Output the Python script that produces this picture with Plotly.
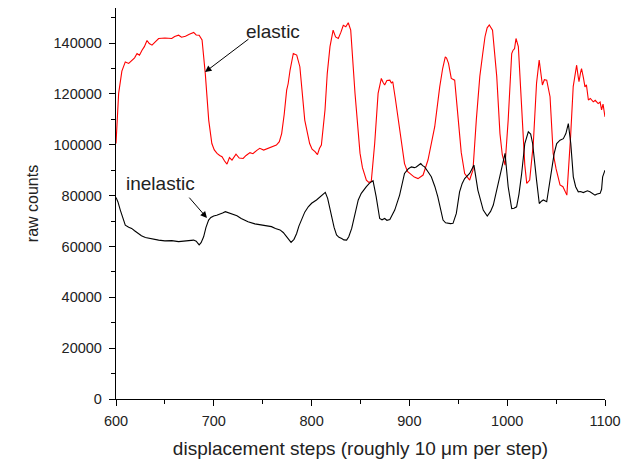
import plotly.graph_objects as go

# ---- data ----
elastic_x = [600, 602.7, 606, 609.5, 613, 616, 619, 621.5, 624, 626.6, 629, 631.7, 634, 636.8, 640, 643.6,
             650, 657, 660, 664, 667, 671, 675, 679.4, 682, 685, 688, 691.3, 694.8, 698, 700.5, 703.3,
             706, 708.4, 711, 713.5, 716, 718.6, 722.7, 726, 730, 733, 737, 740, 744, 747, 751, 755.7,
             760, 764, 767, 769.4, 772, 774.5, 776, 778, 781.3, 784.8, 788, 790.5, 793, 798, 800.5, 803.5,
             806, 808, 810, 813.7, 816, 818.8, 822, 824.5, 827.3, 830, 832.4, 835, 837.5, 840, 844.4, 849.5,
             852, 856, 858.5, 861, 864.5, 868, 871.3, 873, 874.7, 877, 880, 881.5, 883, 885.6, 890, 895,
             898, 902, 905, 908.8, 911, 914, 919, 925.9, 931, 934, 936.7, 938, 940, 942.8, 946.3, 949.7,
             953, 956.5, 959, 961.6, 963, 965, 968.4, 972, 975, 977.3, 979.5, 981.7, 985, 989.3, 992.6,
             995, 997.8, 1001, 1004.6, 1006, 1007.5, 1009, 1011.4, 1014.8, 1018, 1020, 1021.5, 1023,
             1026.7, 1030, 1032.7, 1034.5, 1036, 1038, 1040.4, 1043.8, 1047, 1050, 1054, 1057, 1059,
             1061, 1064.8, 1067.5, 1069, 1071, 1072.5, 1073.4, 1075, 1076, 1078, 1079.5, 1081, 1083,
             1085, 1088, 1090, 1093, 1095, 1096.5, 1098, 1100]
elastic_y = [100500, 120200, 129000, 132600, 132000, 133300, 134200, 135900, 135200, 137200, 138600, 141000,
             139800, 139200, 140500, 141800, 142000, 141800, 142600, 143100, 142300, 142700, 143500, 144200,
             143200, 143100, 141200, 128000, 109700, 100500, 98000, 96600, 95800, 95300, 93600, 92400, 95000,
             94000, 96300, 94800, 94600, 95800, 96900, 96500, 97800, 98600, 97900, 98600, 99200, 99900,
             101200, 104400, 112000, 121500, 124000, 129400, 135900, 135300, 130700, 120000, 109700, 100500,
             98300, 97300, 96100, 98500, 99900, 113700, 128000, 138600, 145100, 142400, 141800, 144300,
             147000, 146400, 148000, 145100, 120200, 96700, 91000, 86100, 85200, 85500, 100500, 120200,
             126100, 124600, 123500, 125300, 125400, 124300, 124800, 118200, 105800, 92600, 89500, 88100,
             87300, 86700, 87300, 88100, 94000, 107100, 122800, 130000, 134600, 134100, 132000, 126100,
             125400, 111000, 97000, 88700, 87300, 86100, 87800, 90000, 109700, 126900, 135900, 142500,
             146000, 147100, 145100, 126900, 104400, 96000, 92000, 109700, 135900, 137200, 137800, 141800,
             138600, 113700, 92000, 84800, 85600, 86100, 100500, 124200, 133300, 128500, 123500, 125600,
             125400, 118900, 96600, 90500, 84200, 83500, 81800, 80200, 103100, 122900, 126500, 131300,
             127000, 124800, 128400, 130000, 126200, 122800, 123600, 117600, 118200, 116900, 117500, 116200,
             116800, 113700, 116000, 111000]

inelastic_x = [600, 602, 604.4, 607, 609.5, 613, 616, 619, 623, 626, 630, 636, 643.6, 650, 657, 664, 671,
               675, 679.4, 682, 685, 687, 689.6, 692, 694.7, 697, 699.9, 703, 706.6, 709, 711.8, 715,
               718.6, 723.7, 728, 735, 742, 749, 754, 759, 763, 767.7, 771, 774.5, 777, 779, 782, 784.7,
               787, 790, 793, 796.6, 800, 805, 809, 812, 814, 816.4, 818, 820.5, 823, 825.5, 828, 830.8,
               833, 835.8, 838, 841, 844, 847.7, 850.8, 853, 856, 859, 862.8, 866, 869.6, 872, 874.7, 877,
               880, 885, 890, 895, 899, 902, 905, 907, 909, 911.6, 913.5, 915.6, 919, 922.4, 926, 929,
               932, 934.4, 937, 939.5, 942, 944.6, 948, 951.3, 954, 956.5, 959, 961.6, 964, 966, 970,
               975.5, 979.6, 983, 985.8, 991, 994, 997.8, 1001, 1004.6, 1007, 1009.6, 1012, 1014.8,
               1018, 1021.6, 1024, 1026, 1030, 1032.8, 1035, 1036.9, 1040.4, 1043, 1045.5, 1048,
               1050.6, 1054, 1057.4, 1060, 1062.5, 1065, 1067.6, 1070, 1072.7, 1075, 1077.8, 1080,
               1082, 1084.6, 1087, 1089.8, 1092, 1095, 1096.5, 1097.6, 1100]
inelastic_y = [79300, 77500, 74300, 71000, 68400, 67600, 67100, 66200, 65100, 64200, 63500, 63000, 62500,
               62200, 62300, 61900, 62300, 62500, 62500, 62100, 60600, 61500, 63800, 67500, 70400, 71400,
               72000, 72300, 72700, 73200, 73700, 73300, 73000, 72100, 71000, 69700, 68900, 68400, 68200,
               67800, 67100, 66500, 65500, 63800, 62400, 61600, 62800, 65100, 68000, 71000, 73500, 75600,
               77000, 78300, 79800, 80900, 81300, 78900, 75800, 71800, 67500, 64500, 63600, 63100, 62600,
               62500, 63800, 67100, 72500, 78300, 80900, 82200, 83500, 84800, 85900, 79600, 71000, 70500,
               71000, 70300, 70600, 74300, 80200, 88700, 90600, 91300, 91000, 91300, 91800, 92600, 91800,
               91300, 89400, 87400, 83600, 79600, 74500, 70400, 69300, 69100, 69000, 69100, 73000, 81500,
               84800, 86700, 87500, 88700, 90500, 92000, 82200, 74300, 72000, 73800, 76300, 84800, 90200,
               96600, 83500, 74900, 75000, 75600, 80500, 88700, 100500, 105100, 104200, 100500, 86100,
               76900, 77800, 78300, 77600, 83500, 90000, 96500, 100500, 101800, 102400, 104400, 108300,
               100500, 87400, 83500, 81500, 81600, 81200, 81700, 81900, 81500, 81000, 80200, 80600, 80900,
               82500, 87400, 90000]

x_ticks = [600, 700, 800, 900, 1000, 1100]
y_ticks = [0, 20000, 40000, 60000, 80000, 100000, 120000, 140000]

fig = go.Figure()
fig.add_trace(go.Scatter(x=elastic_x, y=elastic_y, mode="lines", name="elastic",
                         line=dict(color="#ff0000", width=1.1)))
fig.add_trace(go.Scatter(x=inelastic_x, y=inelastic_y, mode="lines", name="inelastic",
                         line=dict(color="#000000", width=1.1)))

fig.add_annotation(x=691, y=128600, ax=737, ay=142000, xref="x", yref="y", axref="x", ayref="y",
                   text="", showarrow=True, arrowhead=2, arrowsize=1.3, arrowwidth=1, arrowcolor="black")
fig.add_annotation(x=760.5, y=144700, xref="x", yref="y", text="elastic", showarrow=False,
                   font=dict(size=19, color="#222"))
fig.add_annotation(x=693, y=71200, ax=673.6, ay=79800, xref="x", yref="y", axref="x", ayref="y",
                   text="", showarrow=True, arrowhead=2, arrowsize=1.3, arrowwidth=1, arrowcolor="black")
fig.add_annotation(x=645, y=84900, xref="x", yref="y", text="inelastic", showarrow=False,
                   font=dict(size=19, color="#222"))

axis_common = dict(showgrid=False, zeroline=False, showline=True, linecolor="black", linewidth=1.3,
                   ticks="outside", ticklen=6, tickwidth=1.2, tickcolor="black",
                   tickfont=dict(size=14.5, color="#222"))

# page body has an 8px default margin, so the figure is sized/offset to land the plot area
# where the reference has it
fig.update_layout(
    width=622, height=455,
    margin=dict(l=108, r=25, t=0, b=64, autoexpand=False),
    paper_bgcolor="white", plot_bgcolor="white",
    showlegend=False,
    font=dict(family="Liberation Sans, Arial, sans-serif", color="#222"),
    xaxis=dict(range=[600, 1100], tickvals=x_ticks, ticktext=[str(v) for v in x_ticks],
               minor=dict(dtick=50, ticks="outside", ticklen=4, tickcolor="black", showgrid=False),
               title=dict(text="displacement steps (roughly 10 μm per step)", font=dict(size=19),
                          standoff=14),
               ticklabelstandoff=2,
               automargin=False, **axis_common),
    yaxis=dict(range=[0, 153800], tickvals=y_ticks, ticktext=[str(v) for v in y_ticks],
               minor=dict(dtick=10000, ticks="outside", ticklen=4, tickcolor="black", showgrid=False),
               title=dict(text="raw counts", font=dict(size=16), standoff=10),
               ticklabelstandoff=4,
               automargin=False, **axis_common),
)

fig.write_html("out.html")
